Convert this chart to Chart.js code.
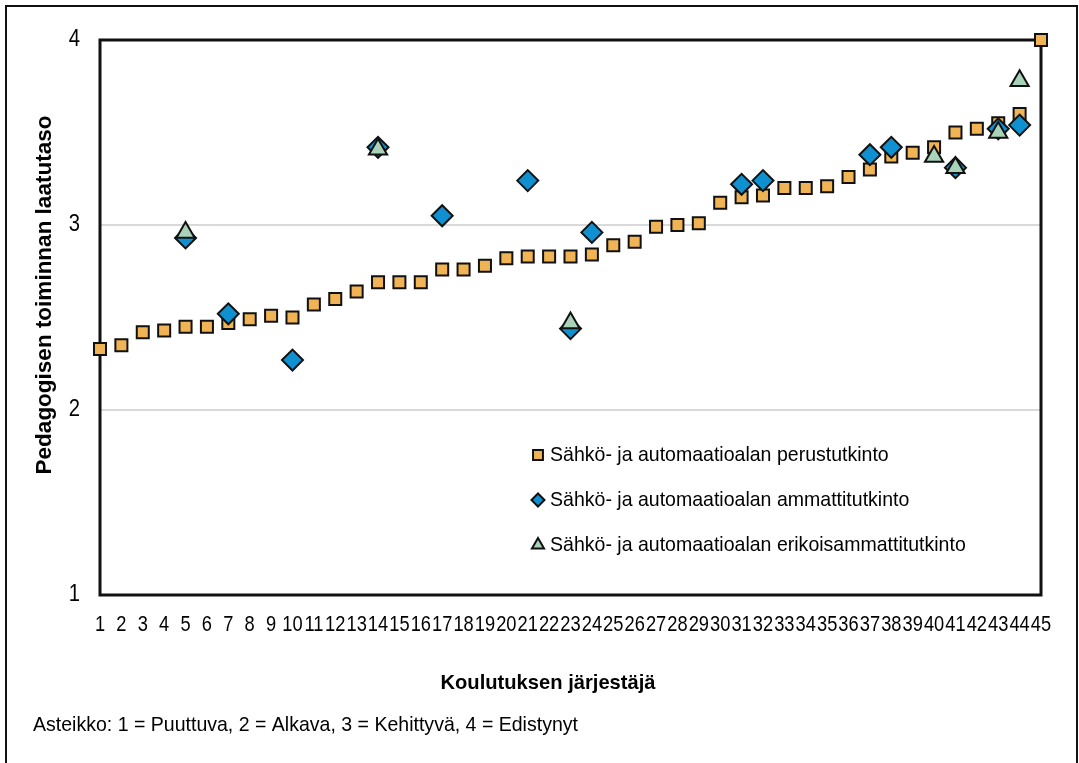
<!DOCTYPE html>
<html>
<head>
<meta charset="utf-8">
<title>Pedagogisen toiminnan laatutaso</title>
<script src="https://cdn.jsdelivr.net/npm/chart.js@4.4.0/dist/chart.umd.min.js"></script>
<style>
  html, body { margin: 0; padding: 0; background: #fff; overflow: hidden; }
  #wrap { position: relative; width: 1079px; height: 763px; }
  #frame { position: absolute; left: 5px; top: 5px; width: 1069px; height: 780px; border: 2px solid #111; pointer-events: none; }
</style>
</head>
<body>
<div id="wrap">
  <canvas id="chart" width="1079" height="763"></canvas>
  <div id="frame"></div>
</div>
<script>
// Koulutuksen järjestäjät 1..45
var providers = [];
for (var n = 1; n <= 45; n++) providers.push(String(n));

// Sähkö- ja automaatioalan perustutkinto
var perustutkinto = [
  2.33, 2.35, 2.42, 2.43, 2.45, 2.45, 2.47, 2.49, 2.51, 2.50,
  2.57, 2.60, 2.64, 2.69, 2.69, 2.69, 2.76, 2.76, 2.78, 2.82,
  2.83, 2.83, 2.83, 2.84, 2.89, 2.91, 2.99, 3.00, 3.01, 3.12,
  3.15, 3.16, 3.20, 3.20, 3.21, 3.26, 3.30, 3.37, 3.39, 3.42,
  3.50, 3.52, 3.55, 3.60, 4.00
];

// Sähkö- ja automaatioalan ammattitutkinto
var ammattitutkinto = [
  null, null, null, null, 2.93, null, 2.52, null, null, 2.27,
  null, null, null, 3.42, null, null, 3.05, null, null, null,
  3.24, null, 2.44, 2.96, null, null, null, null, null, null,
  3.22, 3.24, null, null, null, null, 3.38, 3.42, null, null,
  3.31, null, 3.52, 3.54, null
];

// Sähkö- ja automaatioalan erikoisammattitutkinto
var erikoisammattitutkinto = [
  null, null, null, null, 2.96, null, null, null, null, null,
  null, null, null, 3.41, null, null, null, null, null, null,
  null, null, 2.47, null, null, null, null, null, null, null,
  null, null, null, null, null, null, null, null, null, 3.37,
  3.31, null, 3.50, 3.78, null
];

var yTicks = [1, 2, 3, 4];

var seriesNames = [
  'Sähkö- ja automaatioalan perustutkinto',
  'Sähkö- ja automaatioalan ammattitutkinto',
  'Sähkö- ja automaatioalan erikoisammattitutkinto'
];

var FONT = '"Liberation Sans", Arial, sans-serif';
var ORANGE = '#f0b454';
var BLUE = '#0f90d0';
var GREEN = '#a9d3b8';
var EDGE = '#111111';

// legend marker styles, same order as seriesNames
var legendMarks = [
  { pointStyle: 'rect', radius: 7, fill: ORANGE },
  { pointStyle: 'rectRot', radius: 6.5, fill: BLUE },
  { pointStyle: 'triangle', radius: 7, fill: GREEN }
];

// text squeezed horizontally, like a narrow face
function narrowText(ctx, text, x, y, sx) {
  ctx.save();
  ctx.translate(x, y);
  ctx.scale(sx, 1);
  ctx.fillText(text, 0, 0);
  ctx.restore();
}

// black box around the plot area, drawn under the markers
var plotFrame = {
  id: 'plotFrame',
  beforeDatasetsDraw: function(chart) {
    var a = chart.chartArea;
    var ctx = chart.ctx;
    ctx.save();
    ctx.strokeStyle = EDGE;
    ctx.lineWidth = 3;
    ctx.strokeRect(a.left, a.top, a.right - a.left, a.bottom - a.top);
    ctx.restore();
  }
};

// tick labels, axis titles, scale note and the legend inside the plot
var annotations = {
  id: 'annotations',
  afterDraw: function(chart) {
    var ctx = chart.ctx;
    var xs = chart.scales.x;
    var ys = chart.scales.y;
    ctx.save();
    ctx.fillStyle = '#000';
    ctx.textBaseline = 'middle';

    ctx.font = '21.5px ' + FONT;
    ctx.textAlign = 'center';
    for (var t = 0; t < providers.length; t++) {
      narrowText(ctx, providers[t], xs.getPixelForTick(t), 625, 0.85);
    }

    ctx.font = '23px ' + FONT;
    ctx.textAlign = 'right';
    for (var k = 0; k < yTicks.length; k++) {
      narrowText(ctx, String(yTicks[k]), 80, ys.getPixelForValue(yTicks[k]), 0.88);
    }

    ctx.textAlign = 'center';
    ctx.font = 'bold 22.5px ' + FONT;
    ctx.save();
    ctx.translate(45, 295);
    ctx.rotate(-Math.PI / 2);
    ctx.fillText('Pedagogisen toiminnan laatutaso', 0, 0);
    ctx.restore();

    ctx.font = 'bold 21px ' + FONT;
    narrowText(ctx, 'Koulutuksen järjestäjä', 548, 683, 0.96);

    ctx.font = '21px ' + FONT;
    ctx.textAlign = 'left';
    narrowText(ctx, 'Asteikko: 1 = Puuttuva, 2 = Alkava, 3 = Kehittyvä, 4 = Edistynyt', 33, 725, 0.93);

    for (var i = 0; i < seriesNames.length; i++) {
      var y = 455 + i * 45;
      var m = legendMarks[i];
      ctx.fillStyle = m.fill;
      ctx.strokeStyle = EDGE;
      ctx.lineWidth = 2;
      Chart.helpers.drawPoint(ctx, { pointStyle: m.pointStyle, radius: m.radius, rotation: 0, borderWidth: 2 }, 538, y);
      ctx.fillStyle = '#000';
      narrowText(ctx, seriesNames[i], 550, y, 0.93);
    }
    ctx.restore();
  }
};

function markerSet(label, data, style, radius, fill, order) {
  return {
    label: label,
    data: data,
    showLine: false,
    pointStyle: style,
    pointRadius: radius,
    pointHoverRadius: radius,
    pointBackgroundColor: fill,
    pointBorderColor: EDGE,
    pointBorderWidth: 2,
    backgroundColor: fill,
    borderColor: EDGE,
    clip: false,
    order: order
  };
}

new Chart(document.getElementById('chart'), {
  type: 'line',
  data: {
    labels: providers,
    datasets: [
      markerSet(seriesNames[0], perustutkinto, 'rect', 8.5, ORANGE, 3),
      markerSet(seriesNames[1], ammattitutkinto, 'rectRot', 10.5, BLUE, 2),
      markerSet(seriesNames[2], erikoisammattitutkinto, 'triangle', 10.5, GREEN, 1)
    ]
  },
  options: {
    responsive: false,
    animation: false,
    layout: { padding: { left: 0, top: 40, right: 38, bottom: 0 } },
    plugins: {
      legend: { display: false },
      tooltip: { enabled: false }
    },
    scales: {
      x: {
        type: 'category',
        offset: false,
        grid: { display: false, drawTicks: false },
        border: { display: false },
        ticks: { display: false, autoSkip: false, maxRotation: 0, minRotation: 0 },
        afterFit: function(scale) { scale.height = 168; }
      },
      y: {
        min: 1,
        max: 4,
        afterBuildTicks: function(scale) {
          scale.ticks = yTicks.map(function(v) { return { value: v }; });
        },
        ticks: { display: false },
        grid: {
          drawTicks: false,
          lineWidth: 2,
          color: function(ctx) {
            var v = ctx.tick && ctx.tick.value;
            return (v === 2 || v === 3) ? '#d9d9d9' : 'rgba(0,0,0,0)';
          }
        },
        border: { display: false },
        afterFit: function(scale) { scale.width = 100; }
      }
    }
  },
  plugins: [plotFrame, annotations]
});
</script>
</body>
</html>
